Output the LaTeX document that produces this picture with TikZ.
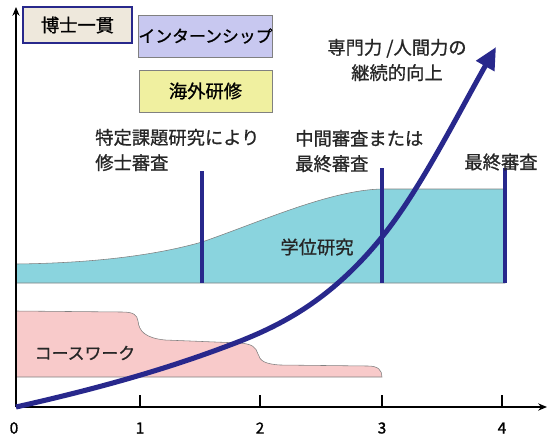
\documentclass[tikz,border=0pt]{standalone}
\usepackage{fontspec}
\setmainfont{Noto Sans CJK JP}[FakeBold=1]
\usepackage{tikz}
\usetikzlibrary{arrows.meta}
\definecolor{degreecyan}{RGB}{138, 212, 222}
\definecolor{coursepink}{RGB}{248, 202, 202}
\definecolor{internlilac}{RGB}{200, 200, 240}
\definecolor{abroadyellow}{RGB}{240, 240, 160}
\definecolor{phdbeige}{RGB}{238, 232, 220}
\definecolor{reviewnavy}{RGB}{40, 40, 140}

\begin{document}
\begin{tikzpicture}[
    x=0.025cm, y=-0.025cm,
    box/.style={rectangle, draw=gray, minimum width=3.325cm, minimum height=1.05cm, inner sep=0pt, font=\fontsize{12}{14}\selectfont},
    txt/.style={inner sep=0pt, align=left, font=\fontsize{13}{18}\selectfont, text=black!85},
    num/.style={inner sep=0pt, font=\fontsize{11}{13}\selectfont},
    region/.style={draw=gray, thin},
    axisline/.style={line width=1.4pt, -{Stealth[length=2.2mm, width=1.8mm]}},
    tick/.style={line width=1.4pt},
    review/.style={reviewnavy, line width=2.2pt},
    growth/.style={reviewnavy, line width=3.6pt, -{Triangle[length=5.5mm, width=5mm]}}
]
    \useasboundingbox (0, 0) rectangle (547, 436);

    % Regions
    \path[region, fill=degreecyan] (16, 283) -- (16, 264)
        .. controls (100, 263) and (160, 254) .. (202, 242)
        .. controls (260, 222) and (330, 190) .. (382, 189)
        -- (505, 189) -- (505, 283) -- cycle;
    \path[region, fill=coursepink] (16, 377) -- (16, 311) -- (122, 312)
        .. controls (134, 312) and (137, 315) .. (138, 321)
        .. controls (139, 331) and (145, 338) .. (165, 340)
        -- (240, 343)
        .. controls (252, 344) and (256, 347) .. (258, 354)
        .. controls (260, 361) and (265, 364) .. (280, 365)
        -- (368, 366)
        .. controls (378, 366) and (382, 370) .. (382, 377) -- cycle;

    % Reviews
    \coordinate (rev1top) at (202, 171);
    \coordinate (rev1bot) at (202, 283);
    \coordinate (rev2top) at (382, 168);
    \coordinate (rev2bot) at (382, 283);
    \coordinate (rev3top) at (505, 168);
    \coordinate (rev3bot) at (505, 283);
    \draw[review] (rev1top) -- (rev1bot);
    \draw[review] (rev2top) -- (rev2bot);
    \draw[review] (rev3top) -- (rev3bot);

    % Axes
    \coordinate (O) at (16, 407);
    \coordinate (ymax) at (16, 7);
    \coordinate (xmax) at (547, 407);
    \draw[axisline] (O) -- (ymax);
    \draw[axisline] (O) -- (xmax);
    \node[num] (n0) at (14, 428) {0};
    \foreach \k/\xx in {1/140, 2/260, 3/382, 4/502} {
        \draw[tick] (\xx, 395) -- (\xx, 407);
        \node[num] (n\k) at (\xx, 428) {\k};
    }

    % Growth
    \coordinate (tip) at (496, 47);
    \draw[growth] (O) .. controls (87, 391) and (159, 372) .. (230, 345)
        .. controls (281, 326) and (331, 300) .. (382, 237)
        .. controls (420, 190) and (458, 114) .. (tip);

    % Boxes
    \node[box, draw=reviewnavy, line width=1.4pt, fill=phdbeige, minimum width=2.725cm, minimum height=0.9cm, font=\fontsize{13}{15}\selectfont] (phd) at (77.5, 25) {博士一貫};
    \node[box, fill=internlilac] (intern) at (205.5, 36) {インターンシップ};
    \node[box, fill=abroadyellow, font=\fontsize{13}{15}\selectfont] (abroad) at (205.5, 91) {海外研修};

    % Labels
    \node[txt, align=center] (skill) at (397, 60) {専門力 /人間力の\\継続的向上};
    \node[txt, anchor=west] (master) at (95, 150) {特定課題研究により\\修士審査};
    \node[txt, anchor=west] (middle) at (295, 151) {中間審査または\\最終審査};
    \node[txt] (final) at (501, 162) {最終審査};
    \node[txt] (degree) at (317, 247) {学位研究};
    \node[txt, font=\fontsize{12}{14}\selectfont] (course) at (85, 353) {コースワーク};
\end{tikzpicture}
\end{document}
